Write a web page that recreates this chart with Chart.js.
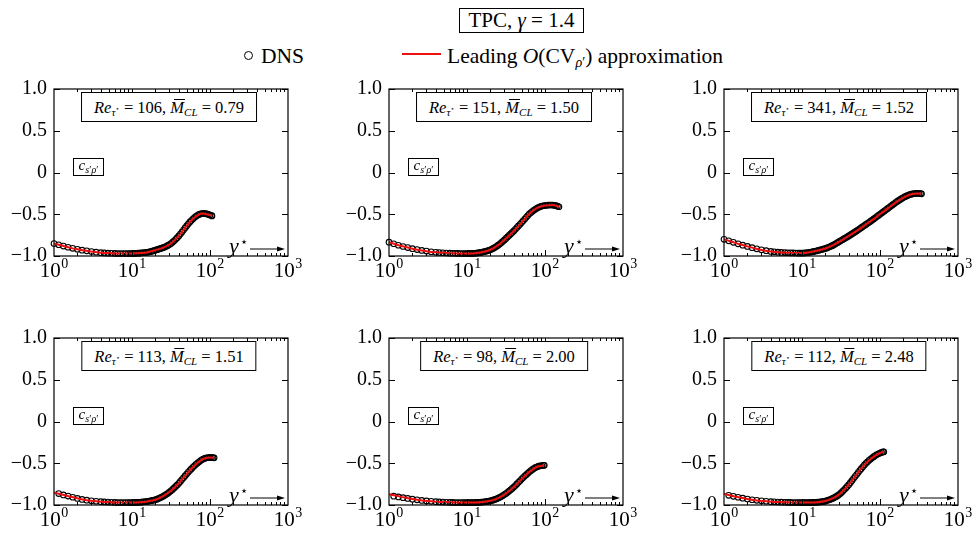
<!DOCTYPE html>
<html>
<head>
<meta charset="utf-8">
<script src="https://cdn.jsdelivr.net/npm/chart.js@4.4.0/dist/chart.umd.min.js"></script>
<style>
  body { margin: 0; background: #fff; color: #000; font-family: 'Liberation Serif', 'Times New Roman', serif; }
  #page { position: relative; width: 974px; height: 538px; overflow: hidden; }
  .panel { position: absolute; width: 304px; height: 216px; }
  .panel canvas { position: absolute; left: 0; top: 0; }
  .note { position: absolute; box-sizing: border-box; height: 30px; padding: 2px 12px 0 12px; line-height: 26px;
          border: 1px solid #000; background: #fff; font-size: 16.5px; white-space: nowrap; transform: translateX(-50%); }
  .note sub { font-size: 11px; vertical-align: -3px; line-height: 0; }
  .note .st { font-size: 7px; vertical-align: 5px; font-family: 'DejaVu Sans', sans-serif; }
  .mbar { position: relative; }
  .mbar::after { content: ''; position: absolute; left: 4px; right: -1px; top: 1.5px; border-top: 1px solid #000; }
  .cbox { position: absolute; box-sizing: border-box; width: 31px; height: 18px; border: 1px solid #000; background: #fff;
          font-size: 15px; line-height: 13px; text-align: center; white-space: nowrap; }
  .cbox sub { font-size: 10px; vertical-align: -3px; line-height: 0; }
  #title { position: absolute; left: 459px; top: 8px; width: 125px; height: 25px; box-sizing: border-box;
           border: 1px solid #000; font-size: 21px; line-height: 23px; text-align: center; white-space: nowrap; }
  .leg { position: absolute; top: 45.5px; font-size: 21.5px; line-height: 20px; white-space: nowrap; }
  .leg sub { font-size: 14px; vertical-align: -4px; line-height: 0; }
  #legDot { position: absolute; left: 243.5px; top: 50.5px; width: 9px; height: 9px; box-sizing: border-box;
            border: 1.5px solid #000; border-radius: 50%; }
  #legLine { position: absolute; left: 402px; top: 52.5px; width: 39px; height: 2px; background: rgb(236, 16, 16); }
</style>
</head>
<body>
<div id="page">
  <div id="title">TPC, <i>γ</i> = 1.4</div>
  <div id="legDot"></div>
  <div class="leg" style="left:261px">DNS</div>
  <div id="legLine"></div>
  <div class="leg" style="left:447px">Leading <i>O</i>(CV<sub><i>ρ</i>′</sub>) approximation</div>
</div>
<script>
// wall-normal sample locations y* of the DNS profiles
const gridY = [1.00, 1.148, 1.318, 1.514, 1.738, 1.995, 2.291, 2.630, 3.020, 3.467, 3.981, 4.416, 4.898, 5.433,
  6.026, 6.531, 7.079, 7.674, 8.318, 8.913, 9.441, 10.0,
  10.47, 10.96, 11.48, 12.02, 12.59, 13.18, 13.80, 14.45, 15.14, 15.85, 16.60, 17.38, 18.20, 19.05, 19.95,
  20.89, 21.88, 22.91, 23.99, 25.12, 26.30, 27.54, 28.84, 30.20, 31.62, 33.11, 34.67, 36.31, 38.02, 39.81,
  41.69, 43.65, 45.71, 47.86, 50.12, 52.48, 54.95, 57.54, 60.26, 63.10, 66.07, 69.18, 72.44, 75.86, 79.43,
  83.18, 87.10, 91.20, 95.50, 100, 104.7, 109.6, 114.8, 120.2, 125.9, 131.8, 138.0, 144.5, 151.4, 158.5,
  166.0, 173.8, 182.0, 190.5, 199.5, 208.9, 218.8, 229.1, 239.9, 251.2, 263.0, 275.4, 288.4, 302.0, 316.2, 331.1];
// locations where the leading-order approximation is read
const fitGrid = [1, 1.259, 1.585, 1.995, 2.512, 3.162, 3.981, 5.012, 6.31, 7.943, 10, 12.59, 15.85, 19.95,
  25.12, 31.62, 39.81, 50.12, 63.1, 79.43, 100, 125.9, 158.5, 199.5, 251.2, 316.2];

const reTau = [106, 151, 341, 113, 98, 112];
const machCL = ['0.79', '1.50', '1.52', '1.51', '2.00', '2.48'];
const dnsStart = [1, 1, 1, 1.14, 1.14, 1.14];

// c_{s'rho'} from DNS, one array per case
const dns1 = [-0.850, -0.865, -0.881, -0.895, -0.908, -0.920, -0.930, -0.938, -0.946, -0.954, -0.960, -0.963, -0.966,
  -0.967, -0.969, -0.970, -0.970, -0.970, -0.970, -0.970, -0.970, -0.970,
  -0.969, -0.968, -0.967, -0.966, -0.965, -0.963, -0.961, -0.959, -0.957, -0.955, -0.951, -0.947, -0.942, -0.936, -0.930,
  -0.924, -0.918, -0.912, -0.906, -0.900, -0.892, -0.883, -0.873, -0.862, -0.850, -0.835, -0.818, -0.800, -0.781, -0.760,
  -0.737, -0.713, -0.689, -0.664, -0.640, -0.617, -0.595, -0.575, -0.557, -0.540, -0.525, -0.512, -0.502, -0.495, -0.491,
  -0.490, -0.492, -0.496, -0.502, -0.509, -0.516, -0.520];
const dns2 = [-0.835, -0.853, -0.871, -0.886, -0.899, -0.912, -0.923, -0.933, -0.941, -0.949, -0.955, -0.958, -0.961,
  -0.964, -0.966, -0.967, -0.968, -0.969, -0.970, -0.970, -0.970, -0.970,
  -0.970, -0.969, -0.969, -0.968, -0.967, -0.965, -0.963, -0.960, -0.957, -0.953, -0.948, -0.943, -0.938, -0.932, -0.925,
  -0.916, -0.906, -0.895, -0.883, -0.870, -0.856, -0.841, -0.824, -0.807, -0.790, -0.772, -0.754, -0.736, -0.718, -0.700,
  -0.680, -0.660, -0.640, -0.620, -0.600, -0.578, -0.557, -0.536, -0.515, -0.495, -0.479, -0.464, -0.450, -0.437, -0.425,
  -0.416, -0.408, -0.402, -0.398, -0.395, -0.392, -0.390, -0.389, -0.389, -0.390, -0.393, -0.397, -0.403, -0.410];
const dns3 = [-0.800, -0.818, -0.836, -0.854, -0.870, -0.885, -0.900, -0.914, -0.926, -0.936, -0.945, -0.950, -0.954,
  -0.957, -0.959, -0.961, -0.962, -0.963, -0.964, -0.965, -0.965, -0.965,
  -0.964, -0.963, -0.961, -0.958, -0.955, -0.952, -0.948, -0.944, -0.940, -0.935, -0.930, -0.925, -0.920, -0.915, -0.910,
  -0.903, -0.895, -0.887, -0.879, -0.870, -0.859, -0.848, -0.837, -0.826, -0.815, -0.804, -0.793, -0.782, -0.771, -0.760,
  -0.748, -0.736, -0.724, -0.712, -0.700, -0.687, -0.674, -0.661, -0.648, -0.635, -0.622, -0.609, -0.596, -0.583, -0.570,
  -0.556, -0.542, -0.528, -0.514, -0.500, -0.486, -0.472, -0.458, -0.444, -0.430, -0.416, -0.402, -0.388, -0.374, -0.360,
  -0.347, -0.335, -0.323, -0.311, -0.300, -0.290, -0.281, -0.273, -0.266, -0.260, -0.255, -0.252, -0.250, -0.249, -0.250,
  -0.252, -0.255];
const dns4 = [-0.863, -0.879, -0.893, -0.907, -0.921, -0.933, -0.942, -0.949, -0.955, -0.960, -0.963, -0.965,
  -0.967, -0.969, -0.970, -0.970, -0.970, -0.970, -0.970, -0.970, -0.970,
  -0.970, -0.969, -0.969, -0.968, -0.967, -0.965, -0.963, -0.961, -0.959, -0.957, -0.953, -0.949, -0.945, -0.941, -0.937,
  -0.930, -0.922, -0.914, -0.905, -0.895, -0.884, -0.872, -0.859, -0.845, -0.830, -0.813, -0.796, -0.778, -0.759, -0.740,
  -0.718, -0.696, -0.674, -0.652, -0.630, -0.609, -0.588, -0.568, -0.549, -0.530, -0.513, -0.497, -0.482, -0.468, -0.455,
  -0.446, -0.439, -0.434, -0.431, -0.430, -0.431, -0.433, -0.435];
const dns5 = [-0.894, -0.903, -0.912, -0.921, -0.930, -0.938, -0.945, -0.951, -0.956, -0.960, -0.963, -0.965,
  -0.967, -0.968, -0.969, -0.970, -0.970, -0.970, -0.970, -0.970, -0.970,
  -0.970, -0.970, -0.970, -0.970, -0.970, -0.969, -0.968, -0.967, -0.966, -0.964, -0.962, -0.960, -0.957, -0.954, -0.950,
  -0.945, -0.939, -0.933, -0.925, -0.917, -0.908, -0.898, -0.887, -0.875, -0.862, -0.848, -0.833, -0.818, -0.802, -0.785,
  -0.767, -0.748, -0.729, -0.710, -0.690, -0.672, -0.654, -0.637, -0.620, -0.603, -0.588, -0.574, -0.561, -0.550, -0.542,
  -0.535, -0.530, -0.527, -0.525, -0.525];
const dns6 = [-0.884, -0.896, -0.907, -0.918, -0.928, -0.937, -0.944, -0.950, -0.955, -0.960, -0.962, -0.964,
  -0.966, -0.967, -0.968, -0.969, -0.970, -0.970, -0.970, -0.970, -0.970,
  -0.970, -0.970, -0.970, -0.970, -0.970, -0.969, -0.969, -0.968, -0.967, -0.966, -0.964, -0.962, -0.959, -0.956, -0.952,
  -0.946, -0.940, -0.934, -0.926, -0.918, -0.908, -0.897, -0.885, -0.871, -0.855, -0.837, -0.818, -0.799, -0.778, -0.757,
  -0.733, -0.709, -0.684, -0.660, -0.635, -0.611, -0.588, -0.565, -0.542, -0.520, -0.500, -0.482, -0.465, -0.449, -0.435,
  -0.421, -0.408, -0.396, -0.386, -0.377, -0.370, -0.364, -0.362];

// leading O(CV_rho') approximation
const fit1 = [-0.85, -0.875, -0.90, -0.92, -0.935, -0.95, -0.96, -0.965, -0.97, -0.97, -0.97, -0.965, -0.955, -0.93,
  -0.90, -0.85, -0.76, -0.64, -0.54, -0.49, -0.51, -0.52];
const fit2 = [-0.835, -0.865, -0.89, -0.912, -0.93, -0.945, -0.955, -0.962, -0.967, -0.97, -0.97, -0.967, -0.953, -0.925,
  -0.87, -0.79, -0.70, -0.60, -0.495, -0.425, -0.395, -0.39, -0.41];
const fit3 = [-0.80, -0.83, -0.86, -0.885, -0.91, -0.93, -0.945, -0.955, -0.96, -0.965, -0.965, -0.955, -0.935, -0.91,
  -0.87, -0.815, -0.76, -0.70, -0.635, -0.57, -0.50, -0.43, -0.36, -0.30, -0.26, -0.25, -0.255];
const fit4 = [-0.85, -0.875, -0.898, -0.92, -0.94, -0.952, -0.96, -0.965, -0.97, -0.97, -0.97, -0.967, -0.957, -0.937,
  -0.895, -0.83, -0.74, -0.63, -0.53, -0.455, -0.43, -0.435];
const fit5 = [-0.87, -0.89, -0.91, -0.928, -0.942, -0.953, -0.96, -0.965, -0.968, -0.97, -0.97, -0.97, -0.964, -0.95,
  -0.917, -0.862, -0.785, -0.69, -0.603, -0.542, -0.525];
const fit6 = [-0.865, -0.89, -0.91, -0.928, -0.943, -0.953, -0.96, -0.965, -0.968, -0.97, -0.97, -0.97, -0.966, -0.952,
  -0.918, -0.855, -0.757, -0.635, -0.52, -0.435, -0.377, -0.362];

const dnsSets = [dns1, dns2, dns3, dns4, dns5, dns6];
const fitSets = [fit1, fit2, fit3, fit4, fit5, fit6];

const yTickValues = [-1, -0.5, 0, 0.5, 1];
const yTickText = ['\u22121.0', '\u22120.5', '0', '0.5', '1.0'];
const xTickValues = [1, 10, 100, 1000];
const xTickExp = ['0', '1', '2', '3'];

const colLeft = [54, 389, 724];
const rowTop = [84, 333];
const plotW = 234, plotH = 172;
const padL = 50, padT = 14;
const SERIF = '"Liberation Serif", "Times New Roman", serif';

function samples(grid, from, re) {
  return grid.filter(v => v >= from - 1e-9 && v < re).concat(re);
}

// frame with inward ticks on all sides, decade labels and the y* arrow
const framePlugin = {
  id: 'frame',
  afterDraw(chart) {
    const { ctx, chartArea: a } = chart;
    const xs = chart.scales.x, ys = chart.scales.y;
    ctx.save();
    ctx.strokeStyle = '#000';
    ctx.fillStyle = '#000';
    ctx.lineWidth = 1.2;
    ctx.strokeRect(a.left, a.top, a.right - a.left, a.bottom - a.top);

    ctx.lineWidth = 1;
    ctx.beginPath();
    yTickValues.forEach(v => {
      const y = Math.round(ys.getPixelForValue(v)) + 0.5;
      ctx.moveTo(a.left, y); ctx.lineTo(a.left + 6, y);
      ctx.moveTo(a.right, y); ctx.lineTo(a.right - 6, y);
    });
    [1, 10, 100].forEach(dec => {
      for (let k = 1; k <= 9; k++) {
        const v = dec * k;
        if (v <= 1) continue;
        const x = Math.round(xs.getPixelForValue(v)) + 0.5;
        const len = k === 1 ? 6 : 3;
        ctx.moveTo(x, a.bottom); ctx.lineTo(x, a.bottom - len);
        ctx.moveTo(x, a.top); ctx.lineTo(x, a.top + len);
      }
    });
    ctx.stroke();

    // decade labels 10^n
    ctx.textBaseline = 'alphabetic';
    xTickValues.forEach((v, i) => {
      const x = xs.getPixelForValue(v);
      ctx.font = '21px ' + SERIF;
      const wBase = ctx.measureText('10').width;
      ctx.font = '14px ' + SERIF;
      const wExp = ctx.measureText(xTickExp[i]).width;
      const x0 = x - (wBase + wExp + 0.5) / 2;
      ctx.font = '21px ' + SERIF;
      ctx.fillText('10', x0, a.bottom + 21);
      ctx.font = '14px ' + SERIF;
      ctx.fillText(xTickExp[i], x0 + wBase + 0.5, a.bottom + 12);
    });

    // y* with arrow
    ctx.font = 'italic 22px ' + SERIF;
    ctx.fillText('y', a.left + 175, a.top + 163.5);
    ctx.font = '13px "DejaVu Sans", sans-serif';
    ctx.fillText('\u22C6', a.left + 186, a.top + 157);
    const ay = a.top + 160;
    ctx.beginPath();
    ctx.moveTo(a.left + 196, ay); ctx.lineTo(a.left + 226, ay);
    ctx.stroke();
    ctx.beginPath();
    ctx.moveTo(a.left + 231, ay);
    ctx.lineTo(a.left + 223, ay - 2.5);
    ctx.lineTo(a.left + 223, ay + 2.5);
    ctx.closePath();
    ctx.fill();
    ctx.restore();
  }
};

const page = document.getElementById('page');

dnsSets.forEach((dns, i) => {
  const col = i % 3, row = Math.floor(i / 3);
  const wrap = document.createElement('div');
  wrap.className = 'panel';
  wrap.style.left = (colLeft[col] - padL) + 'px';
  wrap.style.top = (rowTop[row] - padT) + 'px';
  const canvas = document.createElement('canvas');
  canvas.width = padL + plotW + 20;
  canvas.height = padT + plotH + 30;
  wrap.appendChild(canvas);
  page.appendChild(wrap);

  const dnsX = samples(gridY, dnsStart[i], reTau[i]);
  const fitX = samples(fitGrid, 1, reTau[i]);
  if (dnsX.length !== dns.length || fitX.length !== fitSets[i].length) {
    console.warn('length mismatch in case', i + 1, dnsX.length, dns.length, fitX.length, fitSets[i].length);
  }

  new Chart(canvas, {
    type: 'line',
    data: {
      datasets: [{
        label: 'Leading O(CV) approximation',
        data: fitX.map((x, k) => ({ x, y: fitSets[i][k] })),
        borderColor: 'rgb(236, 16, 16)',
        borderWidth: 2,
        pointRadius: 0,
        cubicInterpolationMode: 'monotone',
        fill: false,
        order: 0
      }, {
        label: 'DNS',
        data: dnsX.map((x, k) => ({ x, y: dns[k] })),
        showLine: false,
        clip: 4,
        pointRadius: 2.8,
        pointBorderWidth: 1.1,
        pointBorderColor: '#000',
        pointBackgroundColor: 'rgba(255,255,255,0)',
        order: 1
      }]
    },
    options: {
      responsive: false,
      animation: false,
      events: [],
      layout: { padding: { top: padT, right: 20, left: 0, bottom: 0 } },
      plugins: { legend: { display: false }, tooltip: { enabled: false } },
      scales: {
        x: {
          type: 'logarithmic', min: 1, max: 1000,
          grid: { display: false, drawTicks: false }, border: { display: false },
          ticks: { display: false },
          afterFit(scale) { scale.height = 30; }
        },
        y: {
          min: -1, max: 1,
          grid: { display: false, drawTicks: false }, border: { display: false },
          ticks: {
            stepSize: 0.5, padding: 7, color: '#000',
            font: { family: SERIF, size: 20 },
            callback: v => yTickText[yTickValues.indexOf(v)]
          },
          afterFit(scale) { scale.width = padL; }
        }
      }
    },
    plugins: [framePlugin]
  });

  // case label and c_{s'rho'} tag
  const note = document.createElement('div');
  note.className = 'note';
  note.style.left = (padL + 115) + 'px';
  note.style.top = (padT + 7.5) + 'px';
  note.innerHTML = '<i>Re</i><sub><i>τ</i><span class="st">⋆</span></sub> = ' + reTau[i] +
    ', <span class="mbar"><i>M</i></span><sub><i>CL</i></sub> = ' + machCL[i];
  wrap.appendChild(note);

  const tag = document.createElement('div');
  tag.className = 'cbox';
  tag.style.left = (padL + 19) + 'px';
  tag.style.top = (padT + 73.5) + 'px';
  tag.innerHTML = '<i>c</i><sub><i>s</i>′<i>ρ</i>′</sub>';
  wrap.appendChild(tag);
});
</script>
</body>
</html>
